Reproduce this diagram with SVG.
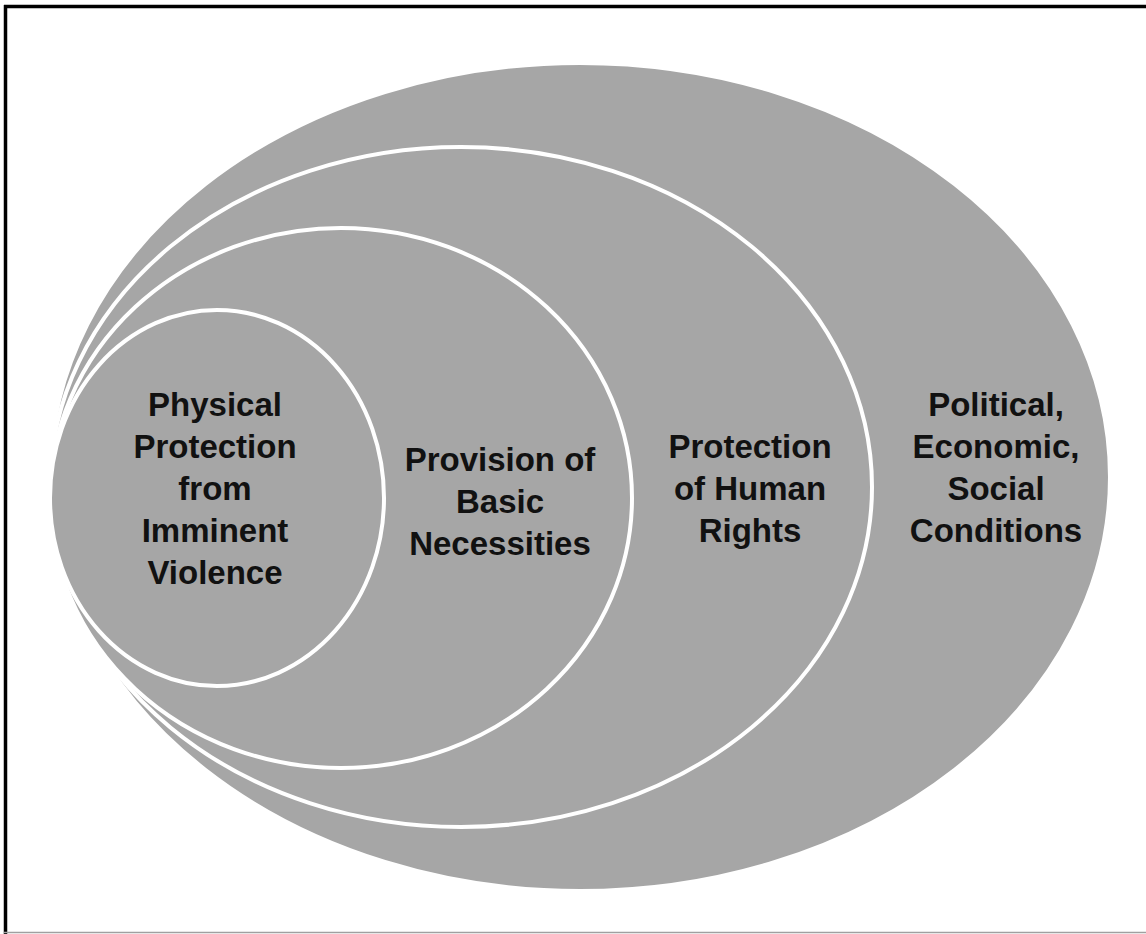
<svg xmlns="http://www.w3.org/2000/svg" width="1146" height="934" viewBox="0 0 1146 934">
  <style>
    .ring { fill: #a6a6a6; stroke: #ffffff; stroke-width: 4; }
    .lbl { font-family: "Liberation Sans", Arial, sans-serif; font-weight: bold; font-size: 33px; fill: #111111; text-anchor: middle; }
  </style>
  <rect x="0" y="0" width="1146" height="934" fill="#ffffff"/>
  <g id="frame">
    <line x1="4" y1="6.5" x2="1146" y2="6.5" stroke="#000" stroke-width="3.5"/>
    <line x1="5.5" y1="5" x2="5.5" y2="934" stroke="#000" stroke-width="3.5"/>
    <line x1="4" y1="932.5" x2="1146" y2="932.5" stroke="#a0a0a0" stroke-width="1.5"/>
  </g>
  <g id="conditions">
    <ellipse class="ring" cx="580" cy="477" rx="530" ry="414" stroke="none"/>
    <text class="lbl"><tspan x="996" y="416">Political,</tspan><tspan x="996" y="458">Economic,</tspan><tspan x="996" y="500">Social</tspan><tspan x="996" y="542">Conditions</tspan></text>
  </g>
  <g id="human-rights">
    <ellipse class="ring" cx="461" cy="487" rx="411" ry="340"/>
    <text class="lbl"><tspan x="750" y="458">Protection</tspan><tspan x="750" y="500">of Human</tspan><tspan x="750" y="542">Rights</tspan></text>
  </g>
  <g id="basic-necessities">
    <ellipse class="ring" cx="341" cy="498" rx="291" ry="270"/>
    <text class="lbl"><tspan x="500" y="471">Provision of</tspan><tspan x="500" y="513">Basic</tspan><tspan x="500" y="555">Necessities</tspan></text>
  </g>
  <g id="physical-protection">
    <ellipse class="ring" cx="217" cy="498" rx="167" ry="188"/>
    <text class="lbl"><tspan x="215" y="416">Physical</tspan><tspan x="215" y="458">Protection</tspan><tspan x="215" y="500">from</tspan><tspan x="215" y="542">Imminent</tspan><tspan x="215" y="584">Violence</tspan></text>
  </g>
  <g id="connectors"/>
</svg>
